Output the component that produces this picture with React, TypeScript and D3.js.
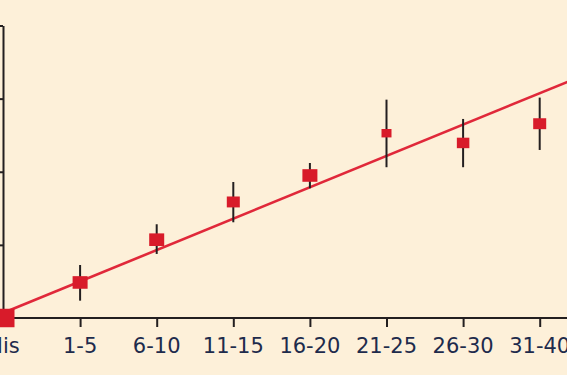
import React, { useEffect, useRef } from 'react';
import * as d3 from 'd3';

// categories along the x axis (first label is cut off in the source)
const categories = ['Nis', '1-5', '6-10', '11-15', '16-20', '21-25', '26-30', '31-40'];
// point estimates and confidence limits
const estimates = [0, 0.486, 1.071, 1.587, 1.949, 2.527, 2.394, 2.657];
const lower = [null, 0.237, 0.876, 1.309, 1.774, 2.062, 2.062, 2.298];
const upper = [null, 0.725, 1.282, 1.860, 2.120, 2.986, 2.722, 3.014];
// relative weight of each group (square size)
const weights = [22, 15, 15, 13, 15, 10, 12.5, 13];
// fitted trend: value = intercept + slope * category index
const trendIntercept = 0.071;
const trendSlope = 0.429;
const yTicks = [0, 1, 2, 3, 4];

const App = () => {
  const svgRef = useRef<SVGSVGElement>(null);
  const width = 567;
  const height = 375;

  useEffect(() => {
    const svg = d3.select(svgRef.current);
    svg.selectAll('*').remove();

    const x = d3.scaleLinear().domain([0, categories.length - 1]).range([3.5, 539.7]);
    const y = d3.scaleLinear().domain([0, 4]).range([318, 25.5]);
    const size = d3.scaleLinear().domain([0, d3.max(weights)!]).range([0, 22]);

    svg.append('rect').attr('width', width).attr('height', height).attr('fill', '#fdf0d9');

    // trend line
    svg.append('line')
      .attr('x1', x(0)).attr('y1', y(trendIntercept))
      .attr('x2', x(7.5)).attr('y2', y(trendIntercept + trendSlope * 7.5))
      .attr('stroke', '#e0283a').attr('stroke-width', 2.6);

    // axes
    const xAxis = svg.append('g').attr('transform', `translate(0,${y(0)})`)
      .call(d3.axisBottom(x).tickValues(d3.range(1, categories.length)).tickSize(9).tickFormat(() => ''));
    xAxis.select('.domain').attr('d', `M3,0H${width}`);
    xAxis.selectAll('line, path').attr('stroke', '#231f20').attr('stroke-width', 2);

    const yAxis = svg.append('g').attr('transform', 'translate(3,0)')
      .call(d3.axisLeft(y).tickValues(yTicks).tickSize(5).tickSizeOuter(0).tickFormat(() => ''));
    yAxis.selectAll('line, path').attr('stroke', '#231f20').attr('stroke-width', 2);

    svg.append('g')
      .selectAll('text')
      .data(categories)
      .join('text')
      .attr('x', (_, i) => x(i))
      .attr('y', 353)
      .attr('text-anchor', 'middle')
      .attr('font-family', 'DejaVu Sans, sans-serif')
      .attr('font-size', 21)
      .attr('fill', '#1e2b4c')
      .text(d => d);

    const pts = categories.map((c, i) => ({ i, v: estimates[i], lo: lower[i], hi: upper[i], w: weights[i] }));

    svg.append('g')
      .selectAll('line')
      .data(pts.filter(d => d.lo !== null))
      .join('line')
      .attr('x1', d => x(d.i)).attr('x2', d => x(d.i))
      .attr('y1', d => y(d.hi as number)).attr('y2', d => y(d.lo as number))
      .attr('stroke', '#231f20').attr('stroke-width', 2);

    svg.append('g')
      .selectAll('rect')
      .data(pts)
      .join('rect')
      .attr('x', d => x(d.i) - size(d.w) / 2)
      .attr('y', d => y(d.v) - size(d.w) * 0.42)
      .attr('width', d => size(d.w))
      .attr('height', d => size(d.w) * 0.84)
      .attr('fill', '#d81b2a');
  }, []);

  return (
    <svg ref={svgRef} width={width} height={height}
      style={{ position: 'fixed', left: 0, top: 0, display: 'block' }} />
  );
};

export default App;
